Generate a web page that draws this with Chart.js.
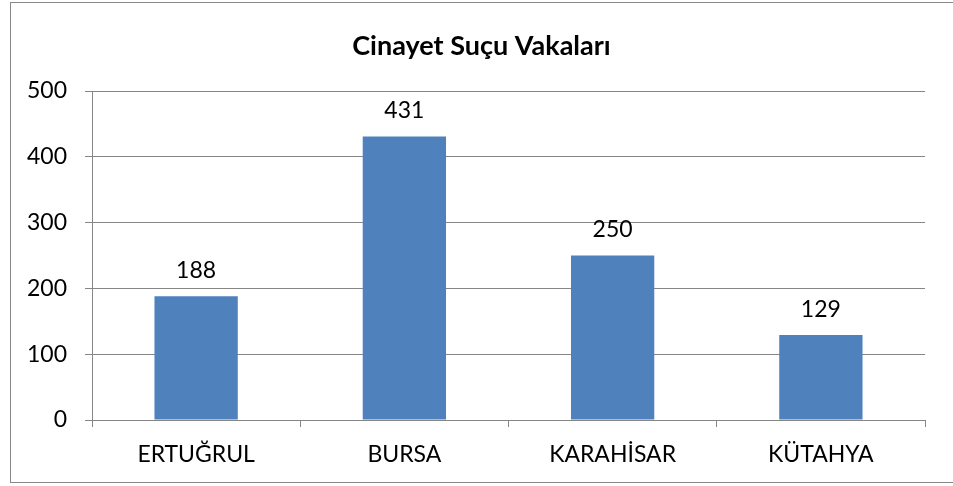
<!DOCTYPE html>
<html>
<head>
<meta charset="utf-8">
<script src="https://cdn.jsdelivr.net/npm/chart.js@4"></script>
<style>
html,body{margin:0;padding:0;background:#fff;overflow:hidden;}
#wrap{position:absolute;left:0;top:0;width:953px;height:486px;}
#frame{position:absolute;left:10px;top:2px;width:960px;height:481px;border:1px solid #888;box-sizing:border-box;}
canvas{position:absolute;left:0;top:0;}
</style>
</head>
<body>
<div id="wrap">
<div id="frame"></div>
<canvas id="c" width="953" height="486"></canvas>
</div>
<script>
const categories = ["ERTUĞRUL", "BURSA", "KARAHİSAR", "KÜTAHYA"];
const cases = [188, 431, 250, 129];
const yTicks = [0, 100, 200, 300, 400, 500];
const chartTitle = "Cinayet Suçu Vakaları";

const FONT = "Lato, 'Open Sans', sans-serif";
const FRAME_LEFT = 10;

const valueLabels = {
  id: 'valueLabels',
  afterDatasetsDraw(chart) {
    const ctx = chart.ctx;
    const meta = chart.getDatasetMeta(0);
    ctx.save();
    ctx.font = "23px " + FONT;
    ctx.fillStyle = "#000";
    ctx.textAlign = "center";
    ctx.textBaseline = "middle";
    meta.data.forEach((bar, i) => {
      ctx.fillText(String(cases[i]), bar.x, bar.y - 26);
    });
    ctx.restore();
  }
};

const frameTitle = {
  id: 'frameTitle',
  afterDraw(chart) {
    const ctx = chart.ctx;
    ctx.save();
    ctx.font = "bold 27px " + FONT;
    ctx.fillStyle = "#000";
    ctx.textAlign = "center";
    ctx.textBaseline = "middle";
    ctx.fillText(chartTitle, (FRAME_LEFT + chart.width) / 2, 46);
    ctx.restore();
  }
};

new Chart(document.getElementById('c'), {
  type: 'bar',
  data: {
    labels: categories,
    datasets: [{
      data: cases,
      backgroundColor: '#4F81BD',
      borderWidth: 0,
      categoryPercentage: 1,
      barPercentage: 0.4
    }]
  },
  options: {
    responsive: false,
    animation: false,
    devicePixelRatio: 1,
    layout: { padding: { left: 0, right: 28, top: 91, bottom: 0 } },
    plugins: {
      legend: { display: false },
      tooltip: { enabled: false },
      title: { display: false }
    },
    scales: {
      x: {
        grid: { display: true, drawOnChartArea: false, drawTicks: true, tickLength: 7, color: '#868686', offset: true },
        border: { display: true, color: '#868686', width: 1 },
        ticks: { color: '#000', font: { family: FONT, size: 23 }, padding: 14, maxRotation: 0 },
        afterFit(scale) { scale.height = 66; }
      },
      y: {
        min: 0, max: 500,
        afterBuildTicks(scale) { scale.ticks = yTicks.map(v => ({ value: v })); },
        grid: { color: '#868686', lineWidth: 1, tickLength: 7, drawTicks: true },
        border: { display: true, color: '#868686', width: 1 },
        ticks: { color: '#000', font: { family: FONT, size: 23 }, padding: 18 },
        afterFit(scale) { scale.width = 92; }
      }
    }
  },
  plugins: [valueLabels, frameTitle]
});
</script>
</body>
</html>
